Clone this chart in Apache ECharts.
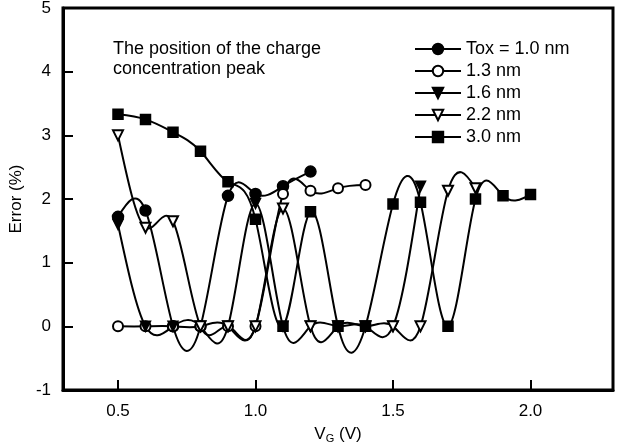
<!DOCTYPE html>
<html>
<head>
<meta charset="utf-8">
<script src="https://cdn.jsdelivr.net/npm/echarts@6/dist/echarts.min.js"></script>
<style>
  html, body { margin: 0; padding: 0; background: #fff; }
  #chart { width: 619px; height: 448px; }
</style>
</head>
<body>
<div id="chart"></div>
<script>
// 곡선 데이터 (V_G, Error %)
const vgTox10 = [0.5, 0.6, 0.7, 0.8, 0.9, 1.0, 1.1, 1.2];
const errTox10 = [1.72, 1.82, 0, 0, 2.05, 2.08, 2.2, 2.43];

const vgTox13 = [0.5, 0.6, 0.7, 0.8, 0.9, 1.0, 1.1, 1.2, 1.3, 1.4];
const errTox13 = [0, 0, 0, 0, 0, 0, 2.08, 2.13, 2.17, 2.22];

const vgTox16 = [0.5, 0.6, 0.7, 0.8, 0.9, 1.0, 1.1, 1.2, 1.3, 1.4, 1.5, 1.6];
const errTox16 = [1.6, 0, 0, 0, 0, 1.93, 0, 0, 0, 0, 0, 2.2];

const vgTox22 = [0.5, 0.6, 0.7, 0.8, 0.9, 1.0, 1.1, 1.2, 1.3, 1.4, 1.5, 1.6, 1.7, 1.8];
const errTox22 = [3.0, 1.55, 1.65, 0, 0, 0, 1.85, 0, 0, 0, 0, 0, 2.13, 2.17];

const vgTox30 = [0.5, 0.6, 0.7, 0.8, 0.9, 1.0, 1.1, 1.2, 1.3, 1.4, 1.5, 1.6, 1.7, 1.8, 1.9, 2.0];
const errTox30 = [3.33, 3.25, 3.05, 2.75, 2.27, 1.68, 0, 1.8, 0, 0, 1.92, 1.95, 0, 2.0, 2.05, 2.07];

const seriesNames = ["Tox = 1.0 nm", "1.3 nm", "1.6 nm", "2.2 nm", "3.0 nm"];
const xTicks = [0.5, 1.0, 1.5, 2.0];

const FONT = "Liberation Sans";

function pairs(xs, ys) {
  return xs.map((x, i) => [x, ys[i]]);
}

// natural cubic spline: 각 점의 기울기
function splineSlopes(xs, ys) {
  const n = xs.length;
  const h = [];
  for (let i = 0; i < n - 1; i++) h.push(xs[i + 1] - xs[i]);
  const M = new Array(n).fill(0);
  if (n > 2) {
    const a = [], b = [], c = [], d = [];
    for (let i = 1; i < n - 1; i++) {
      a.push(h[i - 1]);
      b.push(2 * (h[i - 1] + h[i]));
      c.push(h[i]);
      d.push(6 * ((ys[i + 1] - ys[i]) / h[i] - (ys[i] - ys[i - 1]) / h[i - 1]));
    }
    const m = b.length;
    for (let i = 1; i < m; i++) {
      const w = a[i] / b[i - 1];
      b[i] -= w * c[i - 1];
      d[i] -= w * d[i - 1];
    }
    const sol = new Array(m);
    sol[m - 1] = d[m - 1] / b[m - 1];
    for (let i = m - 2; i >= 0; i--) sol[i] = (d[i] - c[i] * sol[i + 1]) / b[i];
    for (let i = 0; i < m; i++) M[i + 1] = sol[i];
  }
  const slopes = [];
  for (let i = 0; i < n - 1; i++) {
    slopes.push((ys[i + 1] - ys[i]) / h[i] - h[i] * (2 * M[i] + M[i + 1]) / 6);
  }
  slopes.push((ys[n - 1] - ys[n - 2]) / h[n - 2] + h[n - 2] * (M[n - 2] + 2 * M[n - 1]) / 6);
  return slopes;
}

function curveSeries(xs, ys) {
  const slopes = splineSlopes(xs, ys);
  return {
    type: "custom",
    silent: true,
    z: 1,
    data: pairs(xs, ys),
    renderItem: function (params, api) {
      const i = params.dataIndex;
      if (i >= xs.length - 1) return null;
      const h = xs[i + 1] - xs[i];
      const p0 = api.coord([xs[i], ys[i]]);
      const p1 = api.coord([xs[i] + h / 3, ys[i] + (h / 3) * slopes[i]]);
      const p2 = api.coord([xs[i + 1] - h / 3, ys[i + 1] - (h / 3) * slopes[i + 1]]);
      const p3 = api.coord([xs[i + 1], ys[i + 1]]);
      return {
        type: "bezierCurve",
        shape: { x1: p0[0], y1: p0[1], cpx1: p1[0], cpy1: p1[1], cpx2: p2[0], cpy2: p2[1], x2: p3[0], y2: p3[1] },
        style: { stroke: "#000", lineWidth: 2, fill: null },
      };
    },
  };
}

function markerSeries(name, xs, ys, symbol, size, rotate) {
  return {
    name: name,
    type: "line",
    z: 3,
    data: pairs(xs, ys),
    symbol: symbol,
    symbolSize: size,
    symbolRotate: rotate || 0,
    lineStyle: { color: "#000", width: 2, opacity: 0 },
    itemStyle: { color: "#000", borderColor: "#000", borderWidth: 1.5 },
  };
}

const chart = echarts.init(document.getElementById("chart"));

chart.setOption({
  animation: false,
  backgroundColor: "#fff",
  title: {
    text: "The position of the charge\nconcentration peak",
    left: 108,
    top: 34,
    textStyle: { fontFamily: FONT, fontSize: 18, fontWeight: "normal", color: "#000", lineHeight: 20 },
  },
  legend: {
    data: seriesNames,
    orient: "vertical",
    left: 409,
    top: 35,
    itemWidth: 46,
    itemHeight: 13,
    itemGap: 4,
    lineStyle: { color: "#000", width: 2, opacity: 1 },
    textStyle: { fontFamily: FONT, fontSize: 18, color: "#000" },
  },
  grid: {
    left: 63,
    right: 6,
    top: 8,
    bottom: 58,
    outerBoundsMode: "none",
    show: true,
    borderColor: "#000",
    borderWidth: 3,
  },
  xAxis: {
    type: "value",
    min: 0.3,
    max: 2.3,
    name: "V{sub|G} (V)",
    nameLocation: "middle",
    nameGap: 34,
    nameTextStyle: {
      fontFamily: FONT,
      fontSize: 17,
      color: "#000",
      rich: { sub: { fontFamily: FONT, fontSize: 11, color: "#000", verticalAlign: "bottom", padding: [9, 0, 0, 0] } },
    },
    axisLine: { onZero: false, lineStyle: { color: "#000", width: 3 } },
    axisTick: { inside: true, length: 10, customValues: xTicks, lineStyle: { color: "#000", width: 2 } },
    axisLabel: {
      customValues: xTicks,
      formatter: (v) => v.toFixed(1),
      fontFamily: FONT,
      fontSize: 17,
      color: "#000",
      margin: 13,
    },
    splitLine: { show: false },
  },
  yAxis: {
    type: "value",
    min: -1,
    max: 5,
    interval: 1,
    name: "Error (%)",
    nameLocation: "middle",
    nameGap: 30,
    nameTextStyle: { fontFamily: FONT, fontSize: 17, color: "#000" },
    axisLine: { lineStyle: { color: "#000", width: 3 } },
    axisTick: { inside: true, length: 10, lineStyle: { color: "#000", width: 2 } },
    axisLabel: { fontFamily: FONT, fontSize: 17, color: "#000", margin: 12 },
    splitLine: { show: false },
  },
  series: [
    curveSeries(vgTox10, errTox10),
    curveSeries(vgTox13, errTox13),
    curveSeries(vgTox16, errTox16),
    curveSeries(vgTox22, errTox22),
    curveSeries(vgTox30, errTox30),
    markerSeries(seriesNames[0], vgTox10, errTox10, "circle", 11),
    markerSeries(seriesNames[1], vgTox13, errTox13, "emptyCircle", 10),
    markerSeries(seriesNames[2], vgTox16, errTox16, "triangle", 10, 180),
    markerSeries(seriesNames[3], vgTox22, errTox22, "emptyTriangle", 10, 180),
    markerSeries(seriesNames[4], vgTox30, errTox30, "rect", 10),
  ],
});
</script>
</body>
</html>
